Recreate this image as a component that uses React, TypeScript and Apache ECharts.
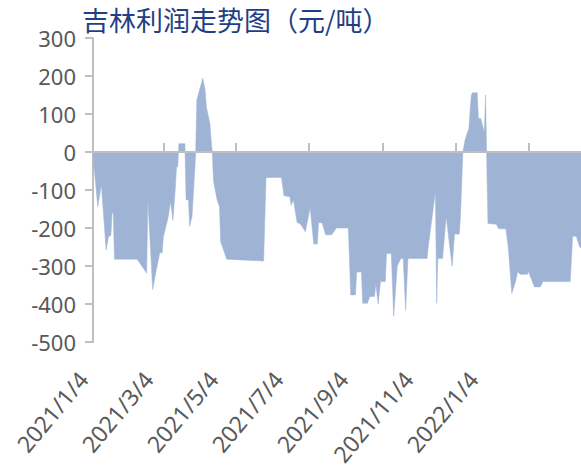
import React, { useEffect, useRef } from "react";
import * as echarts from "echarts";

const titleText = "吉林利润走势图（元/吨）";

const dates = [
  "2021-01-04", "2021-01-08", "2021-01-11", "2021-01-15", "2021-01-17", "2021-01-19", "2021-01-20", "2021-01-21",
  "2021-01-22", "2021-02-10", "2021-02-18", "2021-02-19", "2021-02-23", "2021-02-26", "2021-03-01", "2021-03-03",
  "2021-03-04", "2021-03-08", "2021-03-10", "2021-03-12", "2021-03-14", "2021-03-15", "2021-03-16", "2021-03-17",
  "2021-03-22", "2021-03-23", "2021-03-25", "2021-03-26", "2021-03-28", "2021-03-31", "2021-04-01", "2021-04-06",
  "2021-04-08", "2021-04-09", "2021-04-12", "2021-04-13", "2021-04-14", "2021-04-15", "2021-04-18", "2021-04-20",
  "2021-04-21", "2021-04-23", "2021-04-26", "2021-05-27", "2021-05-29", "2021-06-11", "2021-06-13", "2021-06-18",
  "2021-06-19", "2021-06-21", "2021-06-24", "2021-06-27", "2021-07-01", "2021-07-05", "2021-07-08", "2021-07-11",
  "2021-07-12", "2021-07-15", "2021-07-18", "2021-07-23", "2021-07-27", "2021-08-06", "2021-08-08", "2021-08-12",
  "2021-08-13", "2021-08-17", "2021-08-18", "2021-08-22", "2021-08-24", "2021-08-28", "2021-08-29", "2021-08-31",
  "2021-09-02", "2021-09-06", "2021-09-07", "2021-09-11", "2021-09-13", "2021-09-16", "2021-09-19", "2021-09-21",
  "2021-09-23", "2021-09-25", "2021-10-11", "2021-10-12", "2021-10-18", "2021-10-19", "2021-10-20", "2021-10-24",
  "2021-10-27", "2021-11-01", "2021-11-03", "2021-11-07", "2021-11-08", "2021-11-10", "2021-11-12", "2021-11-15",
  "2021-11-17", "2021-11-18", "2021-11-22", "2021-11-23", "2021-11-25", "2021-11-28", "2021-11-29", "2021-12-01",
  "2021-12-08", "2021-12-10", "2021-12-16", "2021-12-18", "2021-12-21", "2021-12-24", "2021-12-26", "2021-12-28",
  "2022-01-03", "2022-01-04", "2022-01-09", "2022-01-14", "2022-01-16", "2022-02-08", "2022-02-10", "2022-02-13",
  "2022-02-16", "2022-02-17",
];

const values = [
  -10, -144, -87, -258, -223, -220, -161, -161,
  -282, -282, -319, -126, -362, -311, -265, -265,
  -223, -172, -130, -180, -95, -39, -39, 22,
  22, -126, -126, -196, -170, -10, 137, 194,
  163, 119, 75, 32, 0, -76, -126, -144,
  -236, -254, -282, -287, -67, -67, -115, -118,
  -140, -126, -185, -190, -210, -146, -242, -242,
  -186, -186, -218, -218, -200, -200, -376, -376,
  -316, -316, -398, -398, -380, -380, -346, -400,
  -341, -341, -267, -267, -433, -300, -280, -280,
  -416, -280, -280, -249, -104, -398, -280, -280,
  -170, -301, -216, -216, -168, 0, 34, 62,
  148, 156, 156, 88, 88, 52, 150, -188,
  -190, -202, -202, -249, -372, -342, -315, -322,
  -322, -315, -355, -355, -341, -341, -222, -222,
  -251, -251,
];

const tickDates = ["2021-01-04", "2021-03-04", "2021-05-04", "2021-07-04", "2021-09-04", "2021-11-04", "2022-01-04"];
const tickLabels = ["2021/1/4", "2021/3/4", "2021/5/4", "2021/7/4", "2021/9/4", "2021/11/4", "2022/1/4"];

const yMin = -500;
const yMax = 300;
const yStep = 100;

const toTs = (s: string) => {
  const [y, m, d] = s.split("-").map(Number);
  return new Date(y, m - 1, d).getTime();
};

const axisGray = "#bfbfbf";
const labelGray = "#595959";
const areaColor = "#9fb4d4";

export default function App() {
  const ref = useRef<HTMLDivElement>(null);

  useEffect(() => {
    if (!ref.current) return;
    const chart = echarts.init(ref.current, null, { renderer: "svg" });
    chart.setOption({
      animation: false,
      backgroundColor: "#ffffff",
      title: {
        text: titleText,
        left: 77,
        top: 1,
        textStyle: {
          fontFamily: "Noto Sans CJK SC",
          fontSize: 27,
          fontWeight: "normal",
          color: "#1f3f86",
        },
      },
      grid: [
        { left: 93, right: 0, top: 38, bottom: 128 },
        { left: 83, right: 108, top: 38, bottom: 128 },
      ],
      xAxis: [
        {
          type: "time",
          gridIndex: 0,
          min: toTs(dates[0]),
          max: toTs(dates[dates.length - 1]),
          z: 10,
          axisLine: { show: true, onZero: true, lineStyle: { color: axisGray, width: 2 } },
          axisTick: {
            show: true,
            inside: true,
            length: 9,
            lineStyle: { color: axisGray, width: 2 },
            customValues: tickDates.map(toTs),
          },
          axisLabel: { show: false },
          splitLine: { show: false },
        },
        {
          type: "category",
          gridIndex: 1,
          data: tickLabels,
          boundaryGap: false,
          axisLine: { show: false, onZero: false },
          axisTick: { show: false },
          splitLine: { show: false },
          axisLabel: {
            interval: 0,
            rotate: 50,
            margin: 33,
            fontSize: 23,
            fontFamily: "Noto Sans",
            color: labelGray,
          },
        },
      ],
      yAxis: [
        {
          type: "value",
          gridIndex: 0,
          min: yMin,
          max: yMax,
          interval: yStep,
          axisLine: { show: true, lineStyle: { color: axisGray, width: 2 } },
          axisTick: { show: true, length: 8, lineStyle: { color: axisGray, width: 2 } },
          axisLabel: { fontSize: 22, fontFamily: "Noto Sans", color: labelGray, margin: 17 },
          splitLine: { show: false },
        },
        { type: "value", gridIndex: 1, min: 0, max: 1, show: false },
      ],
      series: [
        {
          type: "line",
          xAxisIndex: 0,
          yAxisIndex: 0,
          data: dates.map((d, i) => [toTs(d), values[i]]),
          showSymbol: false,
          symbol: "none",
          lineStyle: { width: 0.5, color: areaColor },
          areaStyle: { color: areaColor, opacity: 1 },
          z: 2,
        },
      ],
    });
    return () => chart.dispose();
  }, []);

  return <div ref={ref} style={{ position: "fixed", left: 0, top: 0, width: 581, height: 470 }} />;
}
